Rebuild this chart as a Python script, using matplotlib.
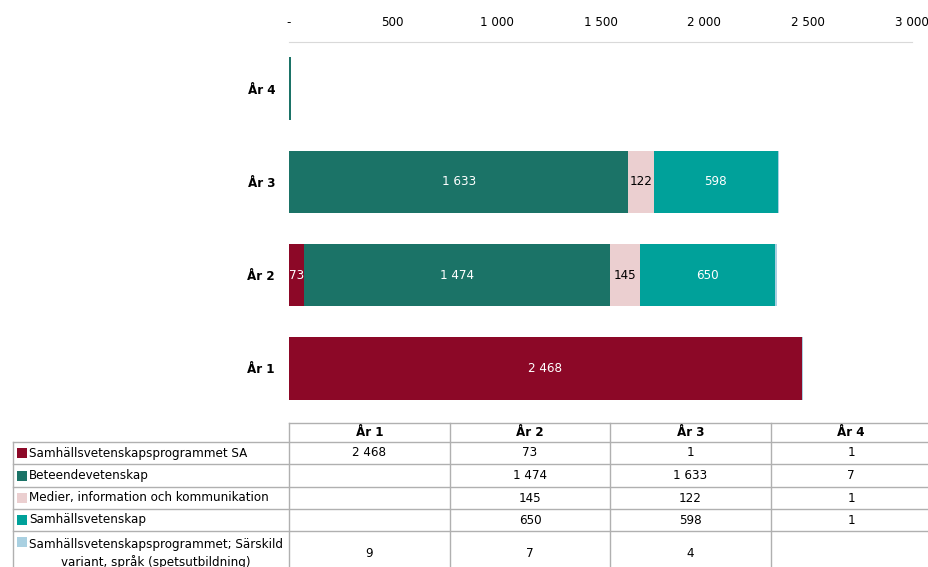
import matplotlib.pyplot as plt
from matplotlib.patches import Rectangle
import numpy as np

plt.rcParams['font.family'] = ['DejaVu Sans']
plt.rcParams['font.stretch'] = 'condensed'

# data
years = ['År 1', 'År 2', 'År 3', 'År 4']
series = ['Samhällsvetenskapsprogrammet SA',
          'Beteendevetenskap',
          'Medier, information och kommunikation',
          'Samhällsvetenskap',
          'Samhällsvetenskapsprogrammet; Särskild\nvariant, språk (spetsutbildning)']
sa = [2468, 73, 1, 1]
beteende = [None, 1474, 1633, 7]
medier = [None, 145, 122, 1]
samh = [None, 650, 598, 1]
sarskild = [9, 7, 4, None]
values = [sa, beteende, medier, samh, sarskild]

colors = ['#8C0827', '#1B7367', '#EBCFD0', '#00A19A', '#A9D0E1']
text_colors = ['white', 'white', 'black', 'white', 'black']
FS = 9.5


def fmt(v):
    if v is None:
        return ''
    return f"{v:,}".replace(',', ' ')


fig = plt.figure(figsize=(9.29, 5.67), dpi=100)
W, H = 929, 567
ax = fig.add_axes([289 / W, 1 - 415 / H, (912 - 289) / W, (415 - 42) / H])

y = np.arange(len(years))
left = np.zeros(len(years))
for vals, col, tc in zip(values, colors, text_colors):
    v = np.array([0 if x is None else x for x in vals], dtype=float)
    bars = ax.barh(y, v, left=left, height=0.67, color=col, linewidth=0)
    for b, val in zip(bars, v):
        if val >= 50:
            ax.text(b.get_x() + b.get_width() / 2, b.get_y() + b.get_height() / 2,
                    fmt(int(val)), ha='center', va='center', color=tc, fontsize=FS)
    left += v

ax.set_xlim(0, 3000)
ax.set_ylim(-0.5, 3.5)
ax.set_xticks(range(0, 3001, 500))
ax.set_xticklabels(['-'] + [fmt(t) for t in range(500, 3001, 500)])
ax.xaxis.tick_top()
ax.set_yticks(y)
ax.set_yticklabels(years, fontweight='bold')
ax.tick_params(axis='x', length=0, pad=9, labelsize=FS)
ax.tick_params(axis='y', length=0, pad=10, labelsize=FS)
for s in ['left', 'right', 'bottom']:
    ax.spines[s].set_visible(False)
ax.spines['top'].set_color('#D9D9D9')

# data table below the chart, in pixel coordinates
tab = fig.add_axes([0, 0, 1, 1], zorder=-1)
tab.set_xlim(0, W)
tab.set_ylim(H, 0)
tab.axis('off')

col_edges = [12.7, 289, 450, 610, 771, 931]
row_edges = [423, 442, 464, 487, 509, 531, 576]
line_col = '#B0B0B0'

tab.plot([col_edges[1], col_edges[-1]], [row_edges[0]] * 2, color=line_col, lw=1)
for r in row_edges[1:]:
    tab.plot([col_edges[0], col_edges[-1]], [r, r], color=line_col, lw=1)
tab.plot([col_edges[0]] * 2, [row_edges[1], row_edges[-1]], color=line_col, lw=1)
for c in col_edges[1:]:
    tab.plot([c, c], [row_edges[0], row_edges[-1]], color=line_col, lw=1)

for j, yr in enumerate(years):
    cx = (col_edges[j + 1] + col_edges[j + 2]) / 2
    tab.text(cx, (row_edges[0] + row_edges[1]) / 2, yr, ha='center', va='center',
             fontsize=FS, fontweight='bold')

for i, (name, vals, col) in enumerate(zip(series, values, colors)):
    top, bot = row_edges[i + 1], row_edges[i + 2]
    cy = (top + bot) / 2
    sq_y = cy if '\n' not in name else top + 11
    tab.add_patch(Rectangle((17, sq_y - 5), 10, 10, color=col, lw=0))
    if '\n' in name:
        tab.text(29, cy, name, ha='left', va='center', multialignment='center',
                 fontsize=FS, linespacing=1.45)
    else:
        tab.text(29, cy, name, ha='left', va='center', fontsize=FS)
    for j, v in enumerate(vals):
        cx = (col_edges[j + 1] + col_edges[j + 2]) / 2
        tab.text(cx, cy, fmt(v), ha='center', va='center', fontsize=FS)

fig.savefig('out.png', dpi=100)
